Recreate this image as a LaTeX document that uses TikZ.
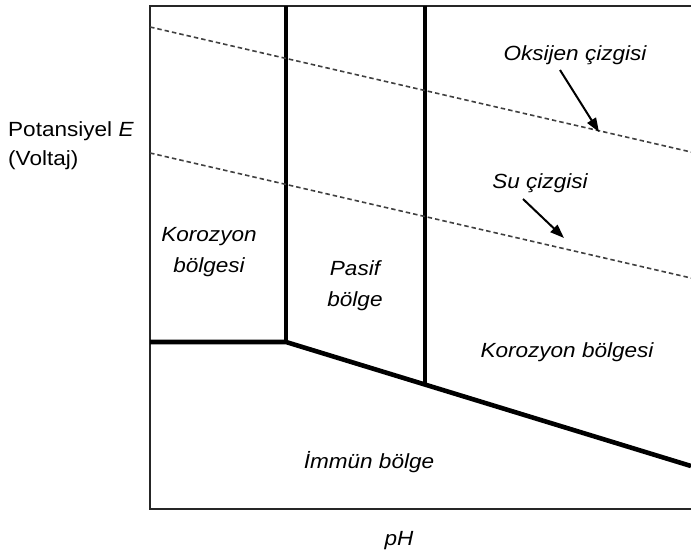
\documentclass[tikz,border=0pt]{standalone}
\usepackage{fontspec}
\setmainfont{Liberation Sans}[FakeStretch=1.1]
\usetikzlibrary{arrows.meta}
\begin{document}
\begin{tikzpicture}[x=1pt,y=-1pt,
  frame/.style={line width=1.5pt,draw=black!85},
  bound/.style={line width=4.6pt,draw=black},
  watch/.style={line width=1.6pt,draw=black!75,dash pattern=on 4.5pt off 3pt},
  pointer/.style={line width=2pt,-{Triangle[length=14pt,width=10pt]}},
  lbl/.style={font=\fontsize{20.5}{31}\selectfont\itshape,align=center,inner sep=0pt},
  axl/.style={font=\fontsize{20.5}{29}\selectfont,align=left,inner sep=0pt}]
\useasboundingbox (0,0) rectangle (691,559);
% frame corners
\coordinate (tl) at (150,6);
\coordinate (tr) at (691,6);
\coordinate (bl) at (150,509);
\coordinate (br) at (691,509);
\draw[frame] (tr) -- (tl) -- (bl) -- (br);
% boundaries
\coordinate (v1t) at (286,6);
\coordinate (v1b) at (286,342);
\coordinate (v2t) at (425,6);
\coordinate (v2b) at (425,384);
\coordinate (hl) at (150,342);
\coordinate (se) at (691,466);
\draw[bound] (v1t) -- (v1b);
\draw[bound] (v2t) -- (v2b);
\draw[bound,line join=round] (hl) -- (v1b) -- (se);
% dashed lines
\coordinate (o1) at (150,27);
\coordinate (o2) at (691,152);
\coordinate (w1) at (150,153);
\coordinate (w2) at (691,278);
\draw[watch] (o1) -- (o2);
\draw[watch] (w1) -- (w2);
% labels
\node[lbl] (ox) at (575,55) {Oksijen çizgisi};
\node[lbl] (su) at (540,183) {Su çizgisi};
\coordinate (oxs) at (560,70);
\coordinate (oxe) at (599,132);
\coordinate (sus) at (523,199);
\coordinate (sue) at (564,238);
\draw[pointer] (oxs) -- (oxe);
\draw[pointer] (sus) -- (sue);
\node[lbl] (kl) at (209,252) {Korozyon\\bölgesi};
\node[lbl] (pb) at (355,286) {Pasif\\bölge};
\node[lbl] (kr) at (567,352) {Korozyon bölgesi};
\node[lbl] (im) at (369,462) {İmmün bölge};
\node[lbl] (ph) at (399,541) {pH};
\node[axl,anchor=west] (pe) at (8,146) {Potansiyel \textit{E}\\(Voltaj)};
\end{tikzpicture}
\end{document}
